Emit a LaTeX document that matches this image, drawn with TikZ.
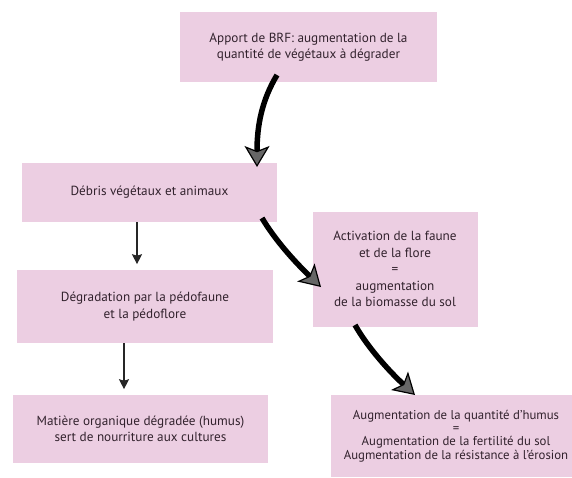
\documentclass[tikz,border=0pt]{standalone}
\usepackage{fontspec}
\setmainfont{PT Sans}
\usetikzlibrary{arrows.meta}
\definecolor{boxpink}{RGB}{236,206,226}
\definecolor{txt}{RGB}{50,34,45}
\tikzset{
  box/.style={fill=boxpink, draw=none, align=center, text=txt, inner sep=0pt,
    font=\fontsize{13.2}{16.5}\selectfont},
  bigarrow/.style={line width=5.5pt, draw=black,
    -{Stealth[length=21pt,width=25pt,inset=5pt,line width=1.2pt,fill=black!60]}},
  thinarrow/.style={line width=1.2pt, draw=black!85,
    -{Stealth[length=10pt,width=10pt,inset=1.5pt]}}
}
\begin{document}
\begin{tikzpicture}[x=1pt,y=-1pt]
\useasboundingbox (0,0) rectangle (572,477);
\node[box, minimum width=257pt, minimum height=70pt] (brf) at (308.5,47)
  {Apport de BRF: augmentation de la\\quantité de végétaux à dégrader};
\node[box, minimum width=255pt, minimum height=59pt] (debris) at (149.5,192.5)
  {Débris végétaux et animaux};
\node[box, minimum width=256pt, minimum height=73pt] (degr) at (145,306.5)
  {Dégradation par la pédofaune\\et la pédoflore};
\node[box, minimum width=255pt, minimum height=68pt] (mat) at (140.5,429)
  {Matière organique dégradée (humus)\\sert de nourriture aux cultures};
\node[box, minimum width=165pt, minimum height=115pt] (act) at (395,269)
  {Activation de la faune\\et de la flore\\=\\augmentation\\de la biomasse du sol};
\node[box, minimum width=250pt, minimum height=82pt, font=\fontsize{12.8}{13.2}\selectfont] (hum) at (456,436)
  {Augmentation de la quantité d'humus\\=\\Augmentation de la fertilité du sol\\Augmentation de la résistance à l'érosion};
\coordinate (a1s) at (277,75);
\coordinate (a1e) at (257,167);
\coordinate (a2s) at (262,218);
\coordinate (a2e) at (321,287);
\coordinate (a3s) at (355,325);
\coordinate (a3e) at (415,395);
\draw[bigarrow] (a1s) .. controls (262,100) and (257,125) .. (a1e);
\draw[bigarrow] (a2s) .. controls (275,240) and (295,262) .. (a2e);
\draw[bigarrow] (a3s) .. controls (368,348) and (390,372) .. (a3e);
\draw[thinarrow] (debris.south -| 137,0) -- ++(0,42);
\draw[thinarrow] (degr.south -| 124,0) -- ++(0,46);
\end{tikzpicture}
\end{document}
